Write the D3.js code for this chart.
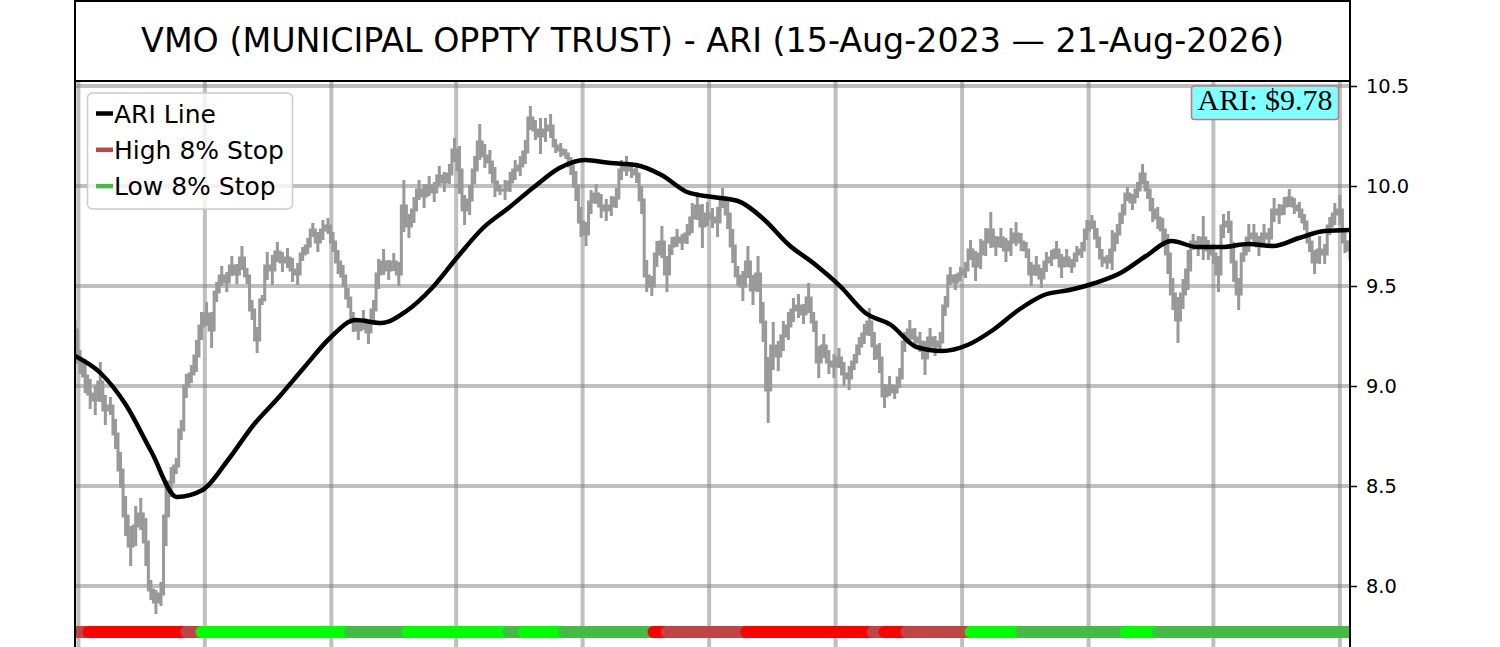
<!DOCTYPE html>
<html>
<head>
<meta charset="utf-8">
<script src="https://cdn.jsdelivr.net/npm/d3@7"></script>
<style>
  html, body { margin: 0; padding: 0; background: #fff; overflow: hidden; }
  svg { display: block; font-family: "DejaVu Sans", sans-serif; }
</style>
</head>
<body>
<div id="svg-container"></div>
<script>
////////////////////////////  Data  ////////////////////////////
const title = "VMO (MUNICIPAL OPPTY TRUST) - ARI (15-Aug-2023 — 21-Aug-2026)";
const lastAri = 9.78;
const totalDays = 756;

// daily price, sampled every 3 trading days (centre of the day's swing)
const priceStep = 3;
const price = [
  9.28, 9.12, 9.05, 8.96, 8.93, 9.02, 8.88, 8.90, 8.76, 8.58,
  8.35, 8.20, 8.30, 8.36, 8.22, 7.98, 7.92, 7.96, 8.35, 8.52,
  8.60, 8.78, 9.00, 9.06, 9.15, 9.30, 9.36, 9.28, 9.47, 9.55,
  9.52, 9.60, 9.56, 9.64, 9.55, 9.38, 9.23, 9.43, 9.60, 9.58,
  9.67, 9.62, 9.64, 9.58, 9.56, 9.66, 9.70, 9.78, 9.72, 9.78,
  9.80, 9.72, 9.62, 9.55, 9.44, 9.32, 9.28, 9.33, 9.27, 9.38,
  9.56, 9.62, 9.58, 9.62, 9.56, 9.90, 9.80, 9.88, 9.98, 9.95,
  10.00, 9.97, 10.05, 10.02, 10.06, 10.18, 10.08, 9.88, 9.93, 10.08,
  10.22, 10.15, 10.12, 10.02, 9.98, 9.98, 10.02, 10.08, 10.10, 10.17,
  10.34, 10.28, 10.25, 10.28, 10.30, 10.20, 10.18, 10.16, 10.10, 10.00,
  9.82, 9.76, 9.92, 9.96, 9.90, 9.88, 9.90, 9.94, 10.08, 10.10,
  10.08, 10.06, 9.93, 9.55, 9.50, 9.66, 9.72, 9.56, 9.70, 9.74,
  9.72, 9.76, 9.84, 9.90, 9.80, 9.86, 9.84, 9.82, 9.94, 9.86,
  9.70, 9.55, 9.50, 9.62, 9.48, 9.56, 9.32, 8.98, 9.20, 9.15,
  9.25, 9.30, 9.38, 9.40, 9.36, 9.44, 9.32, 9.12, 9.20, 9.12,
  9.10, 9.14, 9.06, 9.04, 9.12, 9.20, 9.26, 9.32, 9.20, 9.14,
  8.95, 9.00, 8.97, 9.04, 9.22, 9.28, 9.24, 9.22, 9.14, 9.24,
  9.20, 9.22, 9.40, 9.55, 9.52, 9.56, 9.58, 9.68, 9.60, 9.66,
  9.72, 9.78, 9.70, 9.74, 9.68, 9.72, 9.76, 9.72, 9.68, 9.56,
  9.60, 9.54, 9.62, 9.64, 9.68, 9.60, 9.64, 9.60, 9.66, 9.68,
  9.78, 9.82, 9.74, 9.64, 9.62, 9.68, 9.76, 9.86, 9.96, 9.92,
  9.98, 10.06, 9.98, 9.88, 9.84, 9.78, 9.66, 9.46, 9.33, 9.46,
  9.58, 9.72, 9.70, 9.74, 9.68, 9.66, 9.56, 9.80, 9.82, 9.62,
  9.46, 9.66, 9.74, 9.76, 9.70, 9.76, 9.74, 9.88, 9.86, 9.90,
  9.94, 9.90, 9.88, 9.82, 9.72, 9.62, 9.68, 9.66, 9.80, 9.86,
  9.88, 9.72, 9.68
];

// height of the price swing around each sample
const priceSwing = [
  .10, .12, .17, .15, .15, .20, .15, .09, .15, .18,
  .20, .20, .20, .16, .24, .10, .12, .12, .30, .15,
  .08, .10, .12, .09, .16, .14, .12, .18, .10, .10,
  .10, .10, .10, .12, .08, .10, .13, .05, .14, .15,
  .10, .10, .10, .12, .11, .07, .08, .07, .10, .10,
  .08, .10, .12, .11, .10, .10, .10, .10, .12, .10,
  .15, .13, .10, .09, .12, .26, .12, .13, .10, .12,
  .10, .10, .10, .10, .10, .12, .24, .15, .15, .14,
  .18, .12, .12, .15, .05, .10, .10, .10, .10, .12,
  .12, .10, .18, .12, .12, .07, .07, .05, .09, .15,
  .15, .12, .12, .10, .12, .11, .10, .10, .10, .10,
  .08, .09, .14, .16, .10, .13, .16, .18, .09, .09,
  .08, .10, .15, .14, .22, .12, .10, .15, .10, .15,
  .17, .10, .15, .16, .15, .18, .20, .33, .24, .15,
  .15, .14, .12, .12, .10, .15, .10, .16, .12, .12,
  .12, .10, .12, .12, .08, .09, .10, .14, .14, .15,
  .12, .10, .07, .10, .10, .10, .10, .10, .17, .10,
  .10, .10, .10, .09, .08, .07, .08, .10, .15, .15,
  .14, .18, .10, .10, .12, .14, .12, .09, .08, .12,
  .10, .10, .10, .08, .09, .12, .09, .07, .08, .08,
  .10, .07, .10, .09, .07, .20, .10, .10, .07, .08,
  .08, .10, .09, .12, .11, .12, .20, .16, .23, .15,
  .20, .08, .10, .22, .10, .10, .18, .12, .11, .20,
  .16, .08, .14, .10, .10, .10, .10, .12, .10, .09,
  .09, .08, .08, .08, .10, .12, .14, .10, .09, .11,
  .15, .11, .10
];

// ARI line, one value every 50th of the span
const ariStep = totalDays / 50;
const ari = [
  9.15, 9.065, 8.905, 8.67, 8.445, 8.48, 8.63, 8.805, 8.945, 9.095,
  9.24, 9.33, 9.315, 9.375, 9.49, 9.645, 9.79, 9.89, 9.995, 10.09,
  10.13, 10.115, 10.105, 10.055, 9.97, 9.945, 9.925, 9.835, 9.705, 9.61,
  9.50, 9.365, 9.305, 9.195, 9.175, 9.205, 9.28, 9.38, 9.455, 9.48,
  9.515, 9.565, 9.65, 9.725, 9.695, 9.695, 9.71, 9.70, 9.74, 9.775,
  9.78
];

// stop state bar: start day of each run and its state
const stopStart = [0, 8, 66, 75, 163, 197, 257, 266, 290, 343, 351, 398, 473, 480, 493, 531, 561, 623, 642];
const stopKind = ["high", "highHit", "high", "lowHit", "low", "lowHit", "low", "lowHit", "low",
  "highHit", "high", "highHit", "high", "highHit", "high", "lowHit", "low", "lowHit", "low"];
const stopLevel = 7.77;

const yTicks = [8.0, 8.5, 9.0, 9.5, 10.0, 10.5];
const xTicks = [2, 77, 152, 226, 301, 376, 451, 526, 601, 675, 750];

const legendItems = [
  { label: "ARI Line", color: "#000000" },
  { label: "High 8% Stop", color: "#bf4545" },
  { label: "Low 8% Stop", color: "#44bb44" },
];
const stopColor = { high: "#bf4545", highHit: "#ff0000", low: "#44bb44", lowHit: "#00ff00" };

////////////////////////////  Init  ////////////////////////////
const width = 1500;
const height = 647;
const plot = { left: 75, right: 1350, top: 81, bottom: 700 };

const svg = d3.select("#svg-container").append("svg")
  .attr("width", width).attr("height", height);

const xScale = d3.scaleLinear().domain([0, totalDays]).range([plot.left, plot.right]);
const yScale = d3.scaleLinear().domain([8.0, 10.5]).range([586, 86]);

svg.append("clipPath").attr("id", "plot-clip")
  .append("rect")
  .attr("x", plot.left).attr("y", plot.top)
  .attr("width", plot.right - plot.left).attr("height", plot.bottom - plot.top);

// grid
const grid = svg.append("g").attr("clip-path", "url(#plot-clip)");
grid.selectAll(".vgrid").data(xTicks).enter().append("line")
  .attr("x1", (d) => xScale(d)).attr("x2", (d) => xScale(d))
  .attr("y1", plot.top).attr("y2", plot.bottom)
  .attr("stroke", "#808080").attr("stroke-opacity", 0.5).attr("stroke-width", 4);
grid.selectAll(".hgrid").data(yTicks).enter().append("line")
  .attr("x1", plot.left).attr("x2", plot.right)
  .attr("y1", (d) => yScale(d)).attr("y2", (d) => yScale(d))
  .attr("stroke", "#808080").attr("stroke-opacity", 0.5).attr("stroke-width", 4);

const marks = svg.append("g").attr("clip-path", "url(#plot-clip)");

// price: daily swings as vertical strokes, joined by a step line
marks.selectAll(".swing").data(price).enter().append("line")
  .attr("x1", (d, i) => xScale(i * priceStep)).attr("x2", (d, i) => xScale(i * priceStep))
  .attr("y1", (d, i) => yScale(d + priceSwing[i] / 2))
  .attr("y2", (d, i) => yScale(d - priceSwing[i] / 2))
  .attr("stroke", "#999999")
  .attr("stroke-width", 3);

const priceLine = d3.line()
  .x((d, i) => xScale(i * priceStep))
  .y((d) => yScale(d))
  .curve(d3.curveStep);
marks.append("path")
  .attr("d", priceLine(price))
  .attr("fill", "none")
  .attr("stroke", "#999999")
  .attr("stroke-width", 3);

// ARI
const ariLine = d3.line()
  .x((d, i) => xScale(i * ariStep))
  .y((d) => yScale(d))
  .curve(d3.curveMonotoneX);
marks.append("path")
  .attr("d", ariLine(ari))
  .attr("fill", "none")
  .attr("stroke", "#000")
  .attr("stroke-width", 4.5);

// stop bar
const stopRuns = stopStart.map((s, i) => ({
  start: s,
  end: i < stopStart.length - 1 ? stopStart[i + 1] : totalDays,
  kind: stopKind[i],
}));
marks.selectAll(".stop").data(stopRuns).enter().append("line")
  .attr("x1", (d) => xScale(d.start)).attr("x2", (d) => xScale(d.end))
  .attr("y1", yScale(stopLevel)).attr("y2", yScale(stopLevel))
  .attr("stroke", (d) => stopColor[d.kind])
  .attr("stroke-width", 12)
  .attr("stroke-linecap", "round");

// spines
svg.append("line").attr("x1", plot.left).attr("x2", plot.left)
  .attr("y1", plot.top).attr("y2", height).attr("stroke", "#000").attr("stroke-width", 2);
svg.append("line").attr("x1", plot.right).attr("x2", plot.right)
  .attr("y1", plot.top).attr("y2", height).attr("stroke", "#000").attr("stroke-width", 2);

// y axis on the right
const yAxis = d3.axisRight(yScale)
  .tickValues(yTicks)
  .tickFormat(d3.format(".1f"))
  .tickSize(7)
  .tickPadding(9);
const yAxisG = svg.append("g")
  .attr("transform", `translate(${plot.right},0)`)
  .call(yAxis);
yAxisG.select(".domain").remove();
yAxisG.selectAll(".tick line").attr("stroke", "#000").attr("stroke-width", 1.5);
yAxisG.selectAll(".tick text")
  .attr("fill", "#000")
  .style("font-family", "DejaVu Sans")
  .style("font-size", "19.4px");

// title box
svg.append("rect")
  .attr("x", plot.left).attr("y", 1)
  .attr("width", plot.right - plot.left).attr("height", plot.top - 1)
  .attr("fill", "#fff").attr("stroke", "#000").attr("stroke-width", 2);
svg.append("text")
  .attr("x", (plot.left + plot.right) / 2).attr("y", 51.7)
  .attr("text-anchor", "middle")
  .style("font-size", "33.3px")
  .attr("fill", "#000")
  .text(title);

// legend
const legend = svg.append("g");
legend.append("rect")
  .attr("x", 87.5).attr("y", 93)
  .attr("width", 205).attr("height", 116)
  .attr("rx", 5)
  .attr("fill", "#fff").attr("fill-opacity", 0.8)
  .attr("stroke", "#cccccc").attr("stroke-width", 1.5);
legend.selectAll(".legend-line").data(legendItems).enter().append("line")
  .attr("x1", 96).attr("x2", 113)
  .attr("y1", (d, i) => 113.5 + 36.3 * i).attr("y2", (d, i) => 113.5 + 36.3 * i)
  .attr("stroke", (d) => d.color).attr("stroke-width", 4.5);
legend.selectAll(".legend-text").data(legendItems).enter().append("text")
  .attr("x", 114).attr("y", (d, i) => 122.6 + 36.3 * i)
  .style("font-size", "25px")
  .attr("fill", "#000")
  .text((d) => d.label);

// last value box
svg.append("rect")
  .attr("x", 1191.5).attr("y", 86)
  .attr("width", 147).attr("height", 33.5)
  .attr("rx", 3)
  .attr("fill", "#80ffff")
  .attr("stroke", "#c07a7a").attr("stroke-width", 1.5);
svg.append("text")
  .attr("x", 1265).attr("y", 109.5)
  .attr("text-anchor", "middle")
  .style("font-family", "Liberation Serif")
  .style("font-size", "30px")
  .attr("fill", "#000")
  .text(`ARI: $${lastAri.toFixed(2)}`);
</script>
</body>
</html>
